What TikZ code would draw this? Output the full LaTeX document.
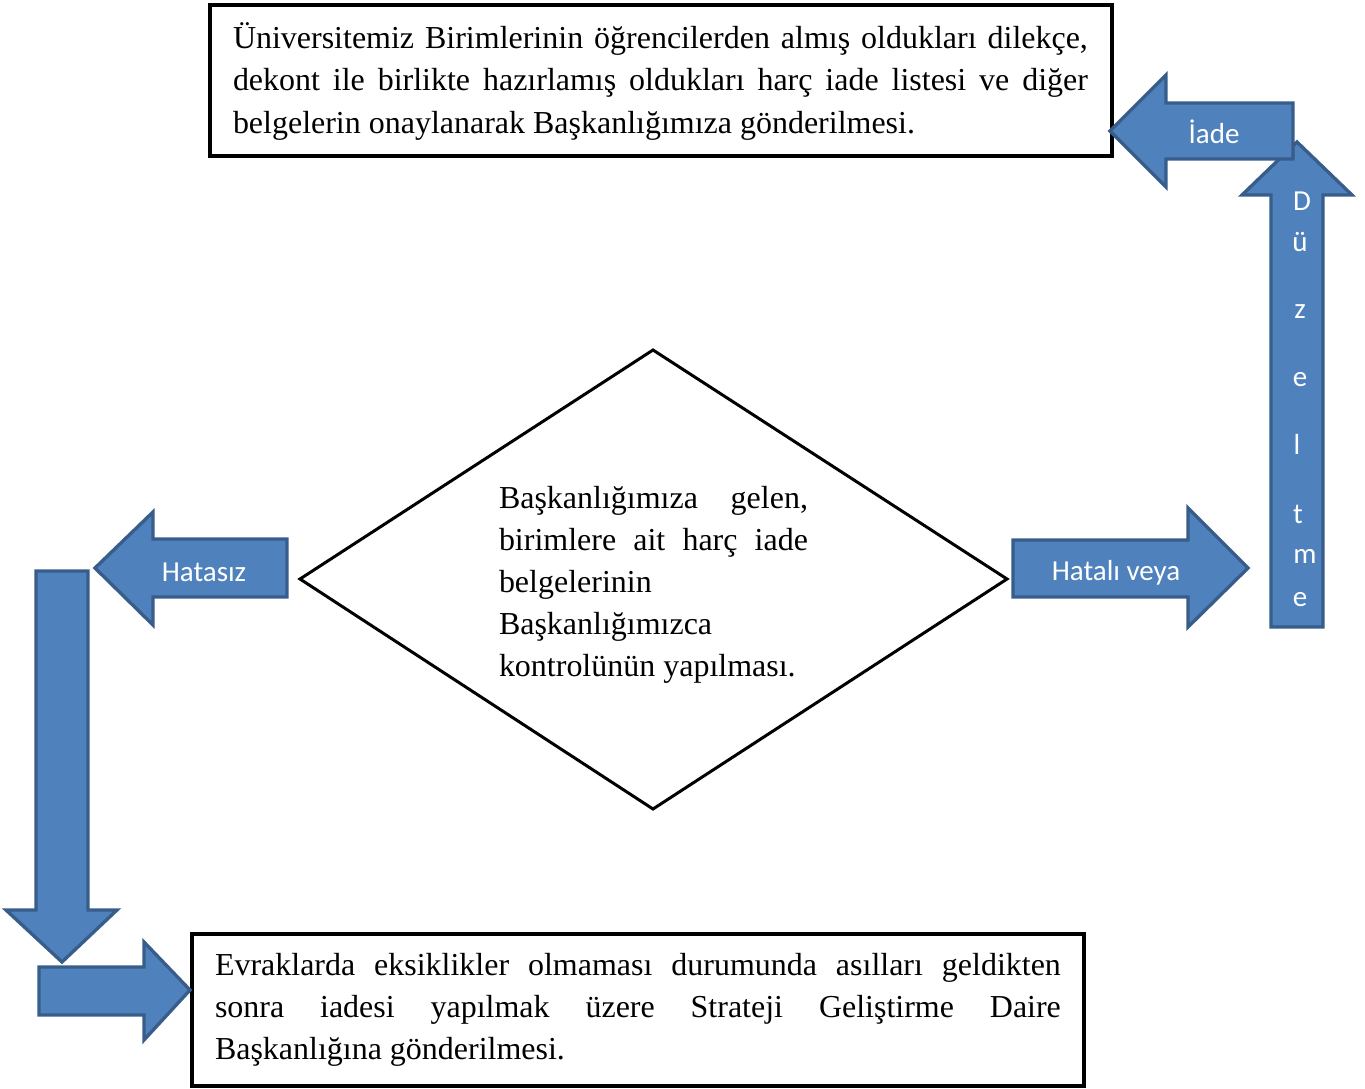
\documentclass[tikz,border=0pt]{standalone}
\usepackage{fontspec}
\setmainfont{Liberation Serif}
\newfontfamily\lblfont{Carlito}
\definecolor{arrowfill}{HTML}{4F81BD}
\definecolor{arrowline}{HTML}{385D8A}
\tikzset{
  box/.style={draw=black, line width=2.3pt, inner sep=0pt, outer sep=0pt, fill=white},
  diam/.style={draw=black, line width=1.7pt, line join=miter, fill=white},
  blockarrow/.style={fill=arrowfill, draw=arrowline, line width=1.9pt, line join=miter},
  txt/.style={inner sep=0pt, outer sep=0pt, font=\fontsize{18.2}{23.9}\selectfont, anchor=base west},
  lbl/.style={inner sep=0pt, outer sep=0pt, text=white, font=\lblfont\fontsize{16.5}{18}\selectfont, anchor=base},
}
\begin{document}
\begin{tikzpicture}[x=0.02cm, y=-0.02cm]
\useasboundingbox (0,0) rectangle (1365,1088);

% boxes
\node[box, anchor=north west, minimum width=18.04cm, minimum height=3.02cm] (topbox) at (210,5) {};
\node[box, anchor=north west, minimum width=17.84cm, minimum height=3.04cm] (bottombox) at (192,934) {};

% diamond
\draw[diam] (653,350) coordinate (dtop) -- (1007,579) coordinate (dright) -- (653,809) coordinate (dbottom) -- (300,579) coordinate (dleft) -- cycle;

% top box text
\node[txt] (t1) at (233,49) {\makebox[17.1cm][s]{Üniversitemiz Birimlerinin öğrencilerden almış oldukları dilekçe,}};
\node[txt] (t2) at (233,91) {\makebox[17.1cm][s]{dekont ile birlikte hazırlamış oldukları harç iade listesi ve diğer}};
\node[txt] (t3) at (233,133) {belgelerin onaylanarak Başkanlığımıza gönderilmesi.};

% diamond text
\node[txt] (d1) at (499,508) {\makebox[6.18cm][s]{Başkanlığımıza gelen,}};
\node[txt] (d2) at (499,550) {\makebox[6.18cm][s]{birimlere ait harç iade}};
\node[txt] (d3) at (499,592) {belgelerinin};
\node[txt] (d4) at (499,634) {Başkanlığımızca};
\node[txt] (d5) at (499,676) {kontrolünün yapılması.};

% bottom box text
\node[txt] (b1) at (215,975) {\makebox[16.92cm][s]{Evraklarda eksiklikler olmaması durumunda asılları geldikten}};
\node[txt] (b2) at (215,1017) {\makebox[16.92cm][s]{sonra iadesi yapılmak üzere Strateji Geliştirme Daire}};
\node[txt] (b3) at (215,1059) {Başkanlığına gönderilmesi.};

% up arrow (Düzeltme)
\draw[blockarrow] (1271,627) -- (1271,195) -- (1242,195) -- (1297,142) -- (1352,195) -- (1323,195) -- (1323,627) -- cycle;
\node[lbl] (u1) at (1302,210) {D};
\node[lbl] (u2) at (1300,251) {ü};
\node[lbl] (u3) at (1300,318) {z};
\node[lbl] (u4) at (1300,386) {e};
\node[lbl] (u5) at (1297,454) {l};
\node[lbl] (u6) at (1298,523) {t};
\node[lbl] (u7) at (1305,563) {m};
\node[lbl] (u8) at (1300,606) {e};

% İade arrow
\draw[blockarrow] (1293,103) -- (1166,103) -- (1166,75) -- (1110,131) -- (1166,187) -- (1166,159) -- (1293,159) -- cycle;
\node[lbl] (iade) at (1214,143) {İade};

% Hatalı veya arrow
\draw[blockarrow] (1013,540) -- (1188,540) -- (1188,508) -- (1248,568) -- (1188,627) -- (1188,597) -- (1013,597) -- cycle;
\node[lbl] (hatali) at (1116,580) {Hatalı veya};

% Hatasız arrow
\draw[blockarrow] (287,539) -- (153,539) -- (153,512) -- (95,568) -- (153,625) -- (153,597) -- (287,597) -- cycle;
\node[lbl] (hatasiz) at (204,581) {Hatasız};

% down arrow
\draw[blockarrow] (36,571) -- (88,571) -- (88,910) -- (117,910) -- (62,962) -- (6,910) -- (36,910) -- cycle;

% right arrow into bottom box
\draw[blockarrow] (39,967) -- (144,967) -- (144,942) -- (190,990) -- (144,1040) -- (144,1015) -- (39,1015) -- cycle;
\end{tikzpicture}
\end{document}
